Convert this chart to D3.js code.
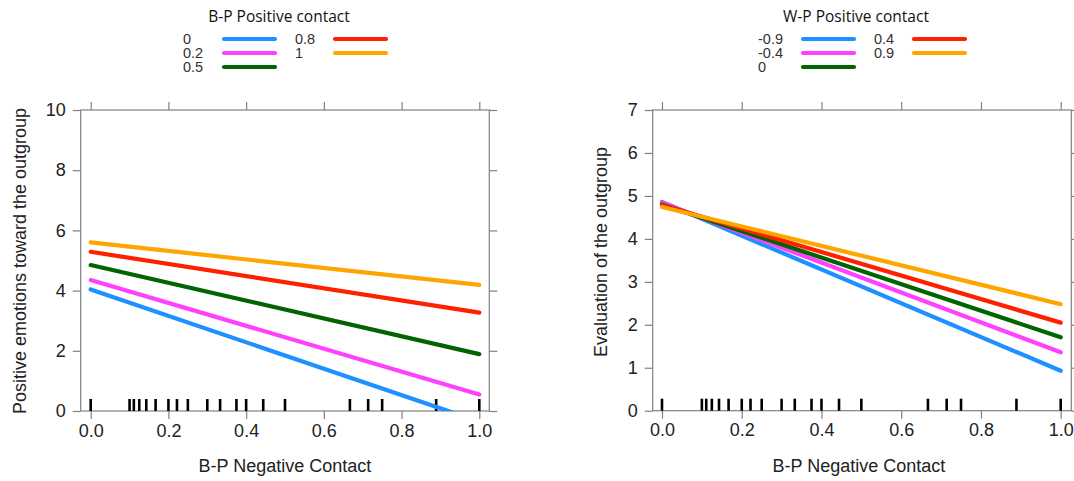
<!DOCTYPE html>
<html>
<head>
<meta charset="utf-8">
<script src="https://cdn.jsdelivr.net/npm/d3@7"></script>
<style>
  html, body { margin: 0; padding: 0; background: #fff; }
  svg { display: block; }
</style>
</head>
<body>
<svg id="chart" width="1074" height="481"></svg>
<script>
// ---------- data ----------
const xTicks = [0, 0.2, 0.4, 0.6, 0.8, 1.0];
const xTickLabels = ["0.0", "0.2", "0.4", "0.6", "0.8", "1.0"];
const lineX = [0, 1];

const leftYTicks = [0, 2, 4, 6, 8, 10];
const leftLevels = ["0", "0.2", "0.5", "0.8", "1"];
const leftStart = [4.04, 4.35, 4.85, 5.29, 5.60];
const leftEnd = [-0.35, 0.55, 1.89, 3.27, 4.19];

const rightYTicks = [0, 1, 2, 3, 4, 5, 6, 7];
const rightLevels = ["-0.9", "-0.4", "0", "0.4", "0.9"];
const rightStart = [4.86, 4.84, 4.80, 4.79, 4.74];
const rightEnd = [0.93, 1.36, 1.71, 2.05, 2.48];

const rugX = [0, 0.1, 0.111, 0.125, 0.143, 0.167, 0.2, 0.222, 0.25, 0.3, 0.333,
              0.375, 0.4, 0.444, 0.5, 0.667, 0.714, 0.75, 0.889, 1.0];

const leftTitle = "B-P Positive contact";
const rightTitle = "W-P Positive contact";
const xTitle = "B-P Negative Contact";
const leftYTitle = "Positive emotions toward the outgroup";
const rightYTitle = "Evaluation of the outgroup";

// ---------- styles ----------
const colors = ["#1e90ff", "#ff40ff", "#006400", "#ff2000", "#ffa500"];
const axisColor = "#808080";
const textColor = "#222";
const tickFont = "'Liberation Sans', Arial, Helvetica, sans-serif";

const svg = d3.select("#chart");

function panel(cfg) {
  const g = svg.append("g");
  const x = d3.scaleLinear().domain([0, 1]).range([cfg.x0, cfg.x1]);
  const y = d3.scaleLinear().domain([0, cfg.ymax]).range([cfg.bottom, cfg.top]);

  const id = "clip" + cfg.name;
  svg.append("defs").append("clipPath").attr("id", id)
    .append("rect")
    .attr("x", cfg.boxL).attr("y", cfg.top)
    .attr("width", cfg.boxR - cfg.boxL).attr("height", cfg.bottom - cfg.top);

  // box
  g.append("rect")
    .attr("x", cfg.boxL).attr("y", cfg.top)
    .attr("width", cfg.boxR - cfg.boxL).attr("height", cfg.bottom - cfg.top)
    .attr("fill", "none").attr("stroke", axisColor).attr("stroke-width", 1.2);

  // axes with outward ticks
  const tl = 8;
  const bottomAxis = d3.axisBottom(x).tickValues(xTicks).tickSize(tl)
    .tickFormat((d, i) => xTickLabels[i]).tickPadding(5);
  const topAxis = d3.axisTop(x).tickValues(xTicks).tickSize(tl).tickFormat("");
  const leftAxis = d3.axisLeft(y).tickValues(cfg.yTicks).tickSize(tl).tickPadding(7)
    .tickFormat(d3.format("d"));
  const rightAxis = d3.axisRight(y).tickValues(cfg.yTicks).tickSize(tl).tickFormat("");

  const styleAxis = sel => {
    sel.select(".domain").remove();
    sel.selectAll(".tick line").attr("stroke", axisColor).attr("stroke-width", 1.2);
    sel.selectAll(".tick text").attr("fill", textColor)
      .style("font-family", tickFont).style("font-size", "18px");
  };
  g.append("g").attr("transform", `translate(0,${cfg.bottom})`).call(bottomAxis).call(styleAxis);
  g.append("g").attr("transform", `translate(0,${cfg.top})`).call(topAxis).call(styleAxis);
  g.append("g").attr("transform", `translate(${cfg.boxL},0)`).call(leftAxis).call(styleAxis);
  g.append("g").attr("transform", `translate(${cfg.boxR},0)`).call(rightAxis).call(styleAxis);

  // rug
  g.append("g").selectAll("line").data(rugX).join("line")
    .attr("x1", d => x(d)).attr("x2", d => x(d))
    .attr("y1", cfg.bottom).attr("y2", cfg.bottom - 12)
    .attr("stroke", "#000").attr("stroke-width", 2.6);

  // lines
  const line = d3.line().x(d => x(d[0])).y(d => y(d[1]));
  const lg = g.append("g").attr("clip-path", `url(#${id})`);
  cfg.levels.forEach((lev, i) => {
    const pts = lineX.map((xv, j) => [xv, j === 0 ? cfg.start[i] : cfg.end[i]]);
    lg.append("path").datum(pts).attr("d", line)
      .attr("fill", "none").attr("stroke", colors[i])
      .attr("stroke-width", 4.2).attr("stroke-linecap", "round");
  });

  // axis titles
  g.append("text")
    .attr("x", (cfg.boxL + cfg.boxR) / 2 + cfg.xTitleDx).attr("y", 472)
    .attr("text-anchor", "middle").attr("fill", textColor)
    .style("font-family", tickFont).style("font-size", "18px")
    .text(xTitle);
  g.append("text")
    .attr("transform", `translate(${cfg.yTitleX},${cfg.yTitleY}) rotate(-90)`)
    .attr("text-anchor", "middle").attr("fill", textColor)
    .style("font-family", tickFont).style("font-size", "18px")
    .text(cfg.yTitle);

  // legend
  const L = cfg.legend;
  g.append("text")
    .attr("x", L.titleX).attr("y", 22)
    .attr("text-anchor", "middle").attr("fill", "#111")
    .style("font-family", "'Open Sans', sans-serif").style("font-size", "15.5px")
    .text(cfg.title);
  const rowsY = [39, 53, 67];
  cfg.levels.forEach((lev, i) => {
    const col = i < 3 ? 0 : 1;
    const row = i < 3 ? i : i - 3;
    const ly = rowsY[row];
    g.append("text")
      .attr("x", L.labelX[col]).attr("y", ly + 5)
      .attr("fill", "#333")
      .style("font-family", tickFont).style("font-size", "14.5px")
      .text(lev);
    g.append("line")
      .attr("x1", L.lineX[col][0]).attr("x2", L.lineX[col][1])
      .attr("y1", ly).attr("y2", ly)
      .attr("stroke", colors[i]).attr("stroke-width", 4.2)
      .attr("stroke-linecap", "round");
  });
}

panel({
  name: "L", x0: 90.7, x1: 479.3, boxL: 80.7, boxR: 489.3, top: 110, bottom: 411,
  ymax: 10, yTicks: leftYTicks, levels: leftLevels, start: leftStart, end: leftEnd,
  title: leftTitle, yTitle: leftYTitle, yTitleX: 26, yTitleY: 261, xTitleDx: 0,
  legend: { titleX: 279, labelX: [183, 295], lineX: [[224, 275], [335, 386]] }
});

panel({
  name: "R", x0: 662, x1: 1060.7, boxL: 652.7, boxR: 1071.3, top: 110, bottom: 410.7,
  ymax: 7, yTicks: rightYTicks, levels: rightLevels, start: rightStart, end: rightEnd,
  title: rightTitle, yTitle: rightYTitle, yTitleX: 607, yTitleY: 252, xTitleDx: -3,
  legend: { titleX: 856, labelX: [758, 874], lineX: [[803, 854], [914, 965]] }
});
</script>
</body>
</html>
